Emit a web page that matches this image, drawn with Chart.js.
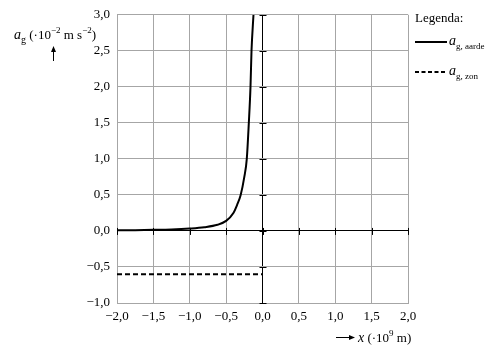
<!DOCTYPE html>
<html>
<head>
<meta charset="utf-8">
<script src="https://cdn.jsdelivr.net/npm/chart.js@4/dist/chart.umd.min.js"></script>
<style>
html,body{margin:0;padding:0;background:#fff;}
#wrap{width:497px;height:354px;position:relative;}
</style>
</head>
<body>
<div id="wrap"><canvas id="c" width="497" height="354"></canvas></div>
<script>
// Data (x in 10^9 m, a in 10^-2 m s^-2)
const xAarde = [-2.0, -1.75, -1.5, -1.25, -1.0, -0.8, -0.62, -0.5, -0.4, -0.35, -0.3, -0.25, -0.216, -0.188, -0.165, -0.151, -0.124];
const yAarde = [0.008, 0.011, 0.015, 0.021, 0.034, 0.052, 0.085, 0.14, 0.25, 0.36, 0.5, 0.75, 1.0, 1.5, 2.0, 2.5, 3.0];
const xZon = [-2.0, 0.0];
const yZon = [-0.6, -0.6];
const xTicks = [-2.0, -1.5, -1.0, -0.5, 0.0, 0.5, 1.0, 1.5, 2.0];
const yTicks = [-1.0, -0.5, 0.0, 0.5, 1.0, 1.5, 2.0, 2.5, 3.0];
const legendLabels = ['Legenda:', 'aarde', 'zon'];

const fmt = v => (v < 0 ? '\u2212' : '') + Math.abs(v).toFixed(1).replace('.', ',');
const SERIF = '"Liberation Serif", "DejaVu Serif", serif';

function richText(ctx, x, y, segs) {
  let cx = x;
  segs.forEach(s => {
    const size = s.size || 13;
    ctx.font = (s.italic ? 'italic ' : '') + size + 'px ' + SERIF;
    let dy = 0;
    if (s.sub) dy = 4;
    if (s.sup) dy = -6;
    ctx.fillText(s.t, cx, y + dy);
    cx += ctx.measureText(s.t).width;
  });
  return cx;
}

const extras = {
  id: 'extras',
  afterDraw(chart) {
    const ctx = chart.ctx;
    const xs = chart.scales.x, ys = chart.scales.y;
    const x0 = xs.getPixelForValue(0), y0 = ys.getPixelForValue(0);
    ctx.save();
    ctx.strokeStyle = '#000';
    ctx.lineWidth = 1;
    // small ticks on x=0 axis
    yTicks.forEach(v => {
      const py = Math.round(ys.getPixelForValue(v)) + 0.5;
      ctx.beginPath(); ctx.moveTo(x0 - 3, py); ctx.lineTo(x0 + 4, py); ctx.stroke();
    });
    // small ticks on y=0 axis
    xTicks.forEach(v => {
      const px = Math.round(xs.getPixelForValue(v)) + 0.5;
      ctx.beginPath(); ctx.moveTo(px, y0 - 3); ctx.lineTo(px, y0 + 4); ctx.stroke();
    });
    ctx.fillStyle = '#000';
    ctx.textBaseline = 'alphabetic';
    ctx.textAlign = 'left';
    // y axis title
    richText(ctx, 14, 39, [
      {t: 'a', italic: true, size: 14},
      {t: 'g', sub: true, size: 10},
      {t: ' (\u00b710', size: 13},
      {t: '\u22122', sup: true, size: 9},
      {t: ' m s', size: 13},
      {t: '\u22122', sup: true, size: 9},
      {t: ')', size: 13}
    ]);
    // up arrow
    ctx.lineWidth = 1;
    ctx.beginPath(); ctx.moveTo(53.5, 61); ctx.lineTo(53.5, 49); ctx.stroke();
    ctx.beginPath(); ctx.moveTo(53.5, 46); ctx.lineTo(51, 52); ctx.lineTo(56, 52); ctx.closePath(); ctx.fill();
    // x axis title
    ctx.beginPath(); ctx.moveTo(336, 337.5); ctx.lineTo(350, 337.5); ctx.stroke();
    ctx.beginPath(); ctx.moveTo(355, 337.5); ctx.lineTo(349, 335); ctx.lineTo(349, 340); ctx.closePath(); ctx.fill();
    richText(ctx, 358, 342, [
      {t: 'x', italic: true, size: 14},
      {t: ' (\u00b710', size: 13},
      {t: '9', sup: true, size: 9},
      {t: ' m)', size: 13}
    ]);
    // legend
    ctx.font = '13px ' + SERIF;
    ctx.fillText(legendLabels[0], 415, 22);
    ctx.lineWidth = 2;
    ctx.setLineDash([]);
    ctx.beginPath(); ctx.moveTo(415, 42); ctx.lineTo(447, 42); ctx.stroke();
    richText(ctx, 449, 45, [
      {t: 'a', italic: true, size: 14},
      {t: 'g, ' + legendLabels[1], sub: true, size: 9}
    ]);
    ctx.setLineDash([4, 2.5]);
    ctx.beginPath(); ctx.moveTo(415, 72); ctx.lineTo(446, 72); ctx.stroke();
    ctx.setLineDash([]);
    richText(ctx, 449, 75, [
      {t: 'a', italic: true, size: 14},
      {t: 'g, ' + legendLabels[2], sub: true, size: 9}
    ]);
    ctx.restore();
  }
};

const gridColor = ctx => (ctx.tick && ctx.tick.value === 0) ? '#000' : '#a6a6a6';

new Chart(document.getElementById('c'), {
  type: 'scatter',
  data: {
    datasets: [
      {
        label: 'ag, aarde',
        data: xAarde.map((x, i) => ({x: x, y: yAarde[i]})),
        showLine: true,
        borderColor: '#000',
        borderWidth: 2,
        pointRadius: 0,
        cubicInterpolationMode: 'monotone'
      },
      {
        label: 'ag, zon',
        data: xZon.map((x, i) => ({x: x, y: yZon[i]})),
        showLine: true,
        borderColor: '#000',
        borderWidth: 2,
        borderDash: [5, 3],
        pointRadius: 0
      }
    ]
  },
  options: {
    responsive: false,
    animation: false,
    devicePixelRatio: 1,
    layout: {padding: {left: 0, right: 89, top: 13, bottom: 0}},
    plugins: {legend: {display: false}, tooltip: {enabled: false}},
    scales: {
      x: {
        type: 'linear', min: -2, max: 2,
        afterBuildTicks: s => { s.ticks = xTicks.map(v => ({value: v})); },
        afterFit: s => { s.height = 51; },
        grid: {color: gridColor, lineWidth: 1, drawTicks: false},
        border: {display: true, color: '#a6a6a6'},
        ticks: {
          callback: v => fmt(v), color: '#000', padding: 6, maxRotation: 0,
          font: {family: SERIF, size: 13}
        }
      },
      y: {
        type: 'linear', min: -1, max: 3,
        afterBuildTicks: s => { s.ticks = yTicks.map(v => ({value: v})); },
        afterFit: s => { s.width = 117; },
        grid: {color: gridColor, lineWidth: 1, drawTicks: false},
        border: {display: true, color: '#a6a6a6'},
        ticks: {
          callback: v => fmt(v), color: '#000', padding: 7,
          font: {family: SERIF, size: 13}
        }
      }
    }
  },
  plugins: [extras]
});
</script>
</body>
</html>
